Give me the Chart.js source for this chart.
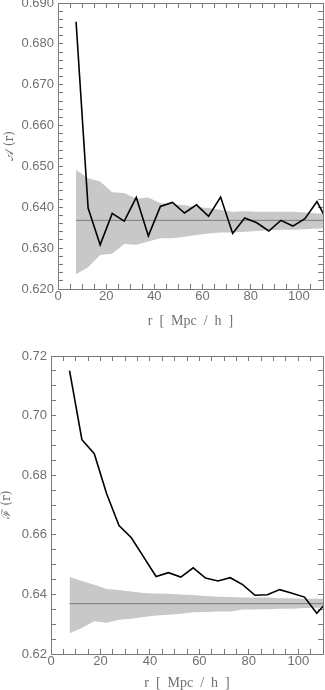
<!DOCTYPE html>
<html>
<head>
<meta charset="utf-8">
<script src="https://cdn.jsdelivr.net/npm/chart.js@4.4.1/dist/chart.umd.min.js"></script>
<style>
	html, body { margin: 0; padding: 0; background: #fff; }
	.box { position: absolute; left: 0; width: 325px; height: 345px; }
</style>
</head>
<body>
<div class="box" style="top:0"><canvas id="chartA"></canvas></div>
<div class="box" style="top:345px"><canvas id="chartF"></canvas></div>
<script>
// bin centres r [Mpc/h]; the last one lies past the axis end and gets clipped
const rBins = [7.5, 12.5, 17.5, 22.5, 27.5, 32.5, 37.5, 42.5, 47.5, 52.5, 57.5,
	62.5, 67.5, 72.5, 77.5, 82.5, 87.5, 92.5, 97.5, 102.5, 107.5, 112.5];

// top panel: A(r)
const aValues = [0.6854, 0.6398, 0.6308, 0.6385, 0.6366, 0.6424, 0.6330, 0.6402, 0.6412, 0.6386, 0.6406,
	0.6378, 0.6425, 0.6336, 0.6374, 0.6362, 0.6342, 0.6368, 0.6354, 0.6372, 0.6414, 0.6358];
const aUpper = [0.6491, 0.6471, 0.6463, 0.6437, 0.6435, 0.6421, 0.6424, 0.6410, 0.6408, 0.6405, 0.6401,
	0.6398, 0.6394, 0.6389, 0.6390, 0.6389, 0.6389, 0.6389, 0.6389, 0.6387, 0.6385, 0.6384];
const aLower = [0.6236, 0.6253, 0.6283, 0.6286, 0.6310, 0.6308, 0.6316, 0.6324, 0.6324, 0.6328, 0.6332,
	0.6336, 0.6338, 0.6338, 0.6340, 0.6342, 0.6344, 0.6345, 0.6345, 0.6346, 0.6348, 0.6349];
const aMean = 0.6368;

// bottom panel: F(r)
const fValues = [0.7151, 0.6919, 0.6872, 0.6738, 0.6631, 0.6590, 0.6525, 0.6460, 0.6473, 0.6458, 0.6489,
	0.6455, 0.6445, 0.6456, 0.6433, 0.6397, 0.6399, 0.6416, 0.6404, 0.6391, 0.6337, 0.6383];
const fUpper = [0.6458, 0.6445, 0.6432, 0.6418, 0.6415, 0.6410, 0.6405, 0.6403, 0.6402, 0.6400, 0.6398,
	0.6395, 0.6392, 0.6391, 0.6390, 0.6390, 0.6390, 0.6387, 0.6387, 0.6385, 0.6385, 0.6385];
const fLower = [0.6270, 0.6287, 0.6310, 0.6305, 0.6315, 0.6318, 0.6324, 0.6329, 0.6332, 0.6335, 0.6340,
	0.6341, 0.6343, 0.6343, 0.6349, 0.6349, 0.6350, 0.6352, 0.6352, 0.6354, 0.6355, 0.6356];
const fMean = 0.6369;

const xTicks = { min: 0, max: 110, major: 20, minor: 5, last: 100 };
const aTicks = { min: 0.62, max: 0.69, major: 0.01, minor: 0.002, digits: 3 };
const fTicks = { min: 0.62, max: 0.72, major: 0.02, minor: 0.005, digits: 2 };

const frameColor = '#7a7a7a';
const labelColor = '#707070';

const isMajor = (v, t) => {
	const q = (v - t.min) / t.major;
	return Math.abs(q - Math.round(q)) < 1e-6;
};

// every minor step gets an inward tick mark (negative tickLength), labels only on majors
const tickGrid = { display: true, drawOnChartArea: false, drawTicks: true, tickLength: -5, color: frameColor, lineWidth: 1 };
const frameBorder = { display: true, color: frameColor, width: 1 };

const points = (values) => rBins.map((r, i) => ({ x: r, y: values[i] }));

function makePanel(id, p) {
	const t = p.ticks;
	const xBase = { type: 'linear', min: xTicks.min, max: xTicks.max, grid: tickGrid, border: frameBorder };
	const yBase = { type: 'linear', min: t.min, max: t.max, grid: tickGrid, border: frameBorder };
	return new Chart(document.getElementById(id), {
		type: 'line',
		data: {
			datasets: [
				{ data: points(p.values), xAxisID: 'x', yAxisID: 'y', borderColor: '#000', borderWidth: 1.6,
					pointRadius: 0, tension: 0, fill: false },
				{ data: [{ x: rBins[0], y: p.mean }, { x: rBins[rBins.length - 1], y: p.mean }], xAxisID: 'x', yAxisID: 'y',
					borderColor: '#7c7c7c', borderWidth: 1, pointRadius: 0, fill: false },
				{ data: points(p.upper), xAxisID: 'x', yAxisID: 'y', borderWidth: 0, borderColor: 'rgba(0,0,0,0)',
					pointRadius: 0, backgroundColor: '#c8c8c8', fill: '+1' },
				{ data: points(p.lower), xAxisID: 'x', yAxisID: 'y', borderWidth: 0, borderColor: 'rgba(0,0,0,0)',
					pointRadius: 0, fill: false },
			],
		},
		options: {
			responsive: true,
			maintainAspectRatio: false,
			animation: false,
			events: [],
			layout: { padding: 0 },
			plugins: {
				legend: { display: false },
				tooltip: { enabled: false },
			},
			scales: {
				x: {
					...xBase,
					position: 'bottom',
					ticks: {
						stepSize: xTicks.minor,
						autoSkip: false,
						maxTicksLimit: 200,
						maxRotation: 0,
						padding: p.xLabelPad,
						color: labelColor,
						font: { family: 'Liberation Sans', size: 13 },
						callback: (v) => (isMajor(v, xTicks) && v <= xTicks.last ? String(v) : ''),
					},
					title: {
						display: true,
						text: 'r  [  Mpc  /  h  ]',
						color: labelColor,
						font: { family: 'Liberation Serif', size: 14, lineHeight: 1 },
						padding: { top: 0, bottom: p.xTitlePad },
					},
					afterFit: (s) => { s.height = p.xHeight; s.paddingLeft = 0; s.paddingRight = 0; },
				},
				x2: {
					...xBase,
					position: 'top',
					ticks: { display: false, stepSize: xTicks.minor, autoSkip: false, maxTicksLimit: 200 },
					afterFit: (s) => { s.height = p.padTop; s.paddingLeft = 0; s.paddingRight = 0; },
				},
				y: {
					...yBase,
					position: 'left',
					ticks: {
						stepSize: t.minor,
						autoSkip: false,
						maxTicksLimit: 200,
						padding: 9,
						color: labelColor,
						font: { family: 'Liberation Sans', size: 13 },
						callback: (v) => (isMajor(v, t) ? v.toFixed(t.digits) : ''),
					},
					title: {
						display: true,
						text: p.yTitle,
						color: labelColor,
						font: { family: 'DejaVu Serif', size: 12, lineHeight: 1 },
						padding: { top: p.yTitlePad, bottom: 0 },
					},
					afterFit: (s) => { s.width = p.yWidth; s.paddingTop = 0; s.paddingBottom = 0; },
				},
				y2: {
					...yBase,
					position: 'right',
					ticks: { display: false, stepSize: t.minor, autoSkip: false, maxTicksLimit: 200 },
					afterFit: (s) => { s.width = 2; s.paddingTop = 0; s.paddingBottom = 0; },
				},
			},
		},
	});
}

makePanel('chartA', {
	values: aValues, upper: aUpper, lower: aLower, mean: aMean, ticks: aTicks,
	yTitle: '𝒜 (r)', padTop: 3, xHeight: 56, yWidth: 58, xLabelPad: 5, xTitlePad: 17, yTitlePad: 4,
});
makePanel('chartF', {
	values: fValues, upper: fUpper, lower: fLower, mean: fMean, ticks: fTicks,
	yTitle: 'ℱ (r)', padTop: 11, xHeight: 36, yWidth: 51, xLabelPad: 5, xTitlePad: 0, yTitlePad: 1,
});
</script>
</body>
</html>
